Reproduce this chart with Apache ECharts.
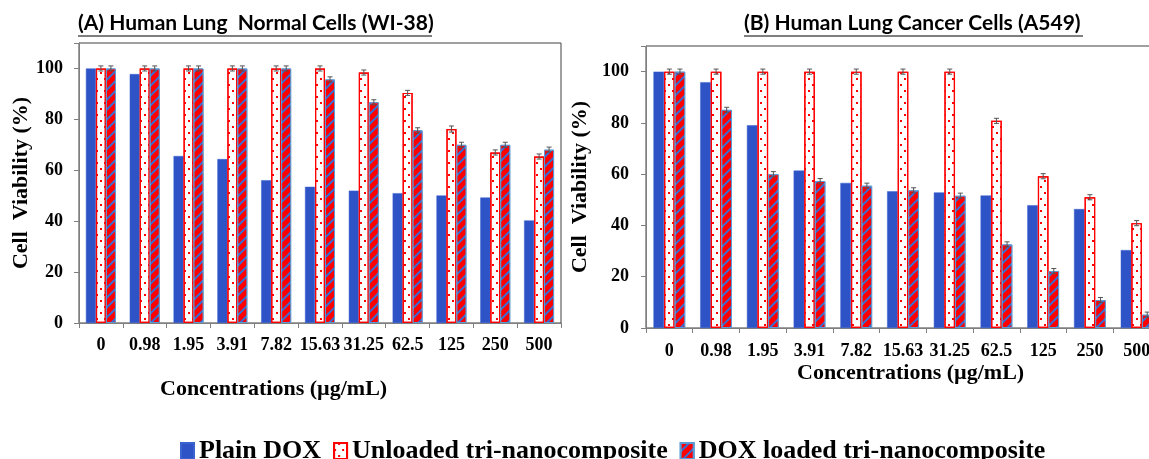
<!DOCTYPE html>
<html>
<head>
<meta charset="utf-8">
<script src="https://cdn.jsdelivr.net/npm/echarts@6/dist/echarts.min.js"></script>
<style>
html,body{margin:0;padding:0;background:#fff;}
#chart{width:1149px;height:459px;}
</style>
</head>
<body>
<div id="chart"></div>
<script>
// ---- data ----
const categories = ['0', '0.98', '1.95', '3.91', '7.82', '15.63', '31.25', '62.5', '125', '250', '500'];
const seriesNames = ['Plain DOX', 'Unloaded tri-nanocomposite', 'DOX loaded tri-nanocomposite'];

// (A) WI-38
const normalPlain    = [100, 97.8, 65.6, 64.4, 56.1, 53.5, 52.0, 51.0, 50.1, 49.3, 40.3];
const normalUnloaded = [100, 100, 100, 100, 100, 100, 98.4, 90.4, 76.2, 67.0, 65.4];
const normalLoaded   = [100, 100, 100, 100, 100, 95.7, 86.7, 75.7, 70.0, 70.0, 68.1];
const normalUnloadedErr = [1, 1, 1, 1, 1, 1, 1, 1, 1.2, 1, 1];
const normalLoadedErr   = [1, 1, 1, 1, 1, 1, 1, 1, 1, 1, 1];

// (B) A549
const cancerPlain    = [100, 95.9, 79.1, 61.4, 56.6, 53.3, 52.9, 51.7, 47.9, 46.4, 30.4];
const cancerUnloaded = [100, 100, 100, 100, 100, 100, 100, 80.8, 59.2, 51.0, 40.9];
const cancerLoaded   = [100, 85.1, 60.0, 57.3, 55.5, 53.7, 51.6, 32.6, 22.2, 10.9, 5.2];
const cancerUnloadedErr = [1, 1, 1, 1, 1, 1, 1, 1, 1, 1, 1];
const cancerLoadedErr   = [1, 1, 1, 1, 1, 1, 1, 1, 1, 1, 1];

const yTicks = {min: 0, max: 110, interval: 20};

// ---- styles ----
const SERIF = '"Liberation Serif", "Times New Roman", serif';
const SANS = 'Lato, "Liberation Sans", sans-serif';
const BLUE = '#2E53C7';
const RED = '#FF0000';
const plainStyle = {color: BLUE, borderColor: '#3B63D0', borderWidth: 0.5};
const unloadedStyle = {
  color: '#FFFFFF', borderColor: RED, borderWidth: 1.2,
  decal: {symbol: 'rect', symbolSize: 1, color: RED,
          dashArrayX: [[2, 6], [0, 4, 2, 2]], dashArrayY: [2, 3.5], rotation: 0}
};
const loadedStyle = {
  color: '#3A6CD2', borderColor: '#5B9BD5', borderWidth: 1,
  decal: {symbol: 'rect', symbolSize: 1, color: RED,
          dashArrayX: [1, 0], dashArrayY: [5, 2], rotation: -Math.PI / 4}
};

function errSeries(name, vals, errs, xi, offsetIdx, bw) {
  return {
    type: 'custom', name: name + ' err', xAxisIndex: xi, yAxisIndex: xi, z: 10,
    silent: true,
    data: vals.map((v, i) => [i, v, errs[i]]),
    encode: {x: 0, y: 1},
    renderItem: function (params, api) {
      const i = api.value(0), v = api.value(1), e = api.value(2);
      const t = api.coord([i, v + e]);
      const b = api.coord([i, v - e]);
      const x = t[0] + offsetIdx * bw;
      const st = {stroke: '#555', lineWidth: 1};
      return {type: 'group', children: [
        {type: 'line', shape: {x1: x, y1: t[1], x2: x, y2: b[1]}, style: st},
        {type: 'line', shape: {x1: x - 2.5, y1: t[1], x2: x + 2.5, y2: t[1]}, style: st},
        {type: 'line', shape: {x1: x - 2.5, y1: b[1], x2: x + 2.5, y2: b[1]}, style: st}
      ]};
    }
  };
}

function xAxisCfg(gi, labelMargin) {
  return {
    type: 'category', gridIndex: gi, data: categories,
    axisLine: {lineStyle: {color: '#7f7f7f', width: 1}},
    axisTick: {show: true, interval: 0, length: 5, lineStyle: {color: '#7f7f7f'}},
    axisLabel: {interval: 0, margin: labelMargin, color: '#000', fontFamily: SERIF, fontWeight: 'bold', fontSize: 18}
  };
}
function yAxisCfg(gi, nameGap, labelMargin) {
  return {
    type: 'value', gridIndex: gi, min: yTicks.min, max: yTicks.max, interval: yTicks.interval,
    name: 'Cell  Viability (%)', nameLocation: 'middle', nameGap: nameGap,
    nameTextStyle: {color: '#000', fontFamily: SERIF, fontWeight: 'bold', fontSize: 22},
    axisLine: {show: true, lineStyle: {color: '#7f7f7f', width: 1}},
    axisTick: {show: true, length: 5, lineStyle: {color: '#7f7f7f'}},
    splitLine: {show: false},
    axisLabel: {margin: labelMargin, color: '#000', fontFamily: SERIF, fontWeight: 'bold', fontSize: 18,
                formatter: v => (v > 100 ? '' : String(v))}
  };
}

const bwA = 10, bwB = 10.6;

const option = {
  animation: false,
  backgroundColor: '#fff',
  title: [
    {text: '(A) Human Lung  Normal Cells (WI-38)', left: 78, top: 13, padding: 0,
     textStyle: {fontFamily: SANS, fontWeight: 'bold', fontSize: 21, color: '#000'}},
    {text: '(B) Human Lung Cancer Cells (A549)', left: 744, top: 13, padding: 0,
     textStyle: {fontFamily: SANS, fontWeight: 'bold', fontSize: 21, color: '#000'}}
  ],
  legend: {
    data: seriesNames, left: 175, top: 433, itemWidth: 13, itemHeight: 16, itemGap: 12,
    icon: 'rect',
    textStyle: {fontFamily: SERIF, fontWeight: 'bold', fontSize: 26, color: '#000'}
  },
  grid: [
    {left: 79, width: 482, top: 43, height: 280, outerBoundsMode: 'none', containLabel: false,
     show: true, borderColor: '#404040', borderWidth: 1, backgroundColor: 'transparent'},
    {left: 646, width: 514, top: 46, height: 282, outerBoundsMode: 'none', containLabel: false,
     show: true, borderColor: '#404040', borderWidth: 1, backgroundColor: 'transparent'}
  ],
  xAxis: [xAxisCfg(0, 13), xAxisCfg(1, 14)],
  yAxis: [yAxisCfg(0, 46, 16), yAxisCfg(1, 55, 17)],
  graphic: [
    {type: 'line', shape: {x1: 78, y1: 36, x2: 432, y2: 36}, style: {stroke: '#000', lineWidth: 1.2}},
    {type: 'line', shape: {x1: 744, y1: 36, x2: 1083, y2: 36}, style: {stroke: '#000', lineWidth: 1.2}},
    {type: 'text', left: 160, top: 378, style: {text: 'Concentrations (µg/mL)', font: 'bold 22px ' + SERIF, fill: '#000'}},
    {type: 'text', left: 797, top: 362, style: {text: 'Concentrations (µg/mL)', font: 'bold 22px ' + SERIF, fill: '#000'}}
  ],
  series: [
    {type: 'bar', name: seriesNames[0], xAxisIndex: 0, yAxisIndex: 0, data: normalPlain, barWidth: bwA, barGap: '0%', itemStyle: plainStyle},
    {type: 'bar', name: seriesNames[1], xAxisIndex: 0, yAxisIndex: 0, data: normalUnloaded, barWidth: bwA, barGap: '0%', itemStyle: unloadedStyle},
    {type: 'bar', name: seriesNames[2], xAxisIndex: 0, yAxisIndex: 0, data: normalLoaded, barWidth: bwA, barGap: '0%', itemStyle: loadedStyle},
    {type: 'bar', name: seriesNames[0], xAxisIndex: 1, yAxisIndex: 1, data: cancerPlain, barWidth: bwB, barGap: '0%', itemStyle: plainStyle},
    {type: 'bar', name: seriesNames[1], xAxisIndex: 1, yAxisIndex: 1, data: cancerUnloaded, barWidth: bwB, barGap: '0%', itemStyle: unloadedStyle},
    {type: 'bar', name: seriesNames[2], xAxisIndex: 1, yAxisIndex: 1, data: cancerLoaded, barWidth: bwB, barGap: '0%', itemStyle: loadedStyle},
    errSeries('u', normalUnloaded, normalUnloadedErr, 0, 0, bwA),
    errSeries('l', normalLoaded, normalLoadedErr, 0, 1, bwA),
    errSeries('u', cancerUnloaded, cancerUnloadedErr, 1, 0, bwB),
    errSeries('l', cancerLoaded, cancerLoadedErr, 1, 1, bwB)
  ]
};

const chart = echarts.init(document.getElementById('chart'), null, {renderer: 'canvas'});
chart.setOption(option);
</script>
</body>
</html>
